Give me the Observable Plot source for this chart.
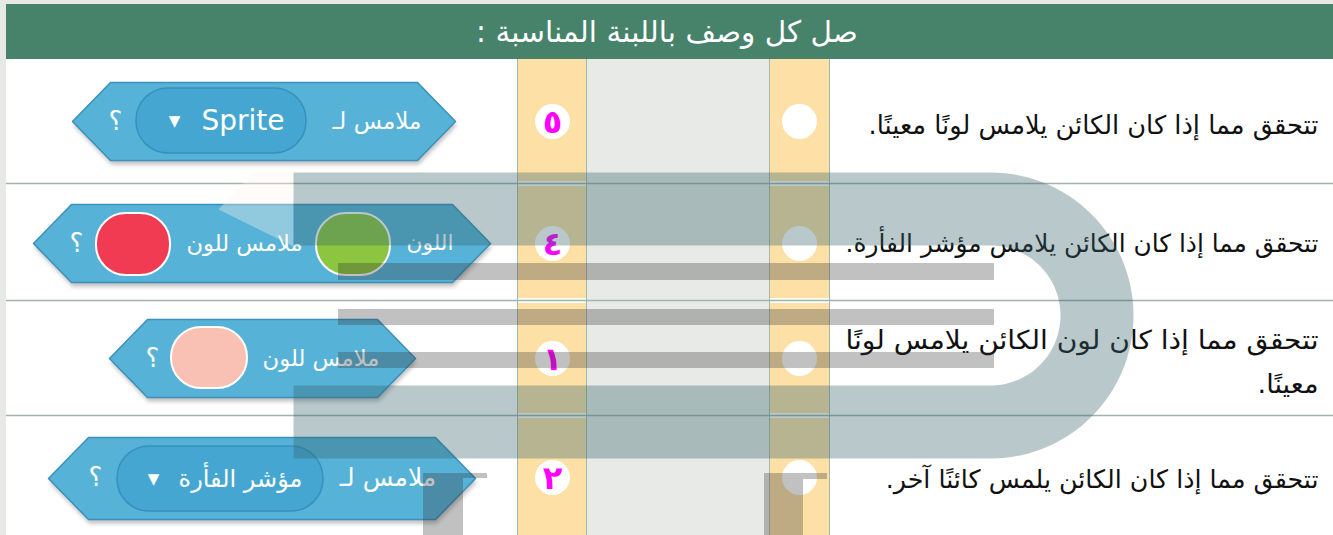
<!DOCTYPE html>
<html><head><meta charset="utf-8">
<script src="https://cdn.jsdelivr.net/npm/d3@7"></script>
<script src="https://cdn.jsdelivr.net/npm/@observablehq/plot@0.6"></script>
<style>html,body{margin:0;padding:0;background:#e6e9e6;overflow:hidden}</style>
</head><body><div id="chart"></div>
<script>
// ---- content ----
const RLM = "\u200F";
const title = "صل كل وصف باللبنة المناسبة :";
const descriptions = [
  ["تتحقق مما إذا كان الكائن يلامس لونًا معينًا."],
  ["تتحقق مما إذا كان الكائن يلامس مؤشر الفأرة."],
  ["تتحقق مما إذا كان لون الكائن يلامس لونًا", "معينًا."],
  ["تتحقق مما إذا كان الكائن يلمس كائنًا آخر."]
];
const answers = ["٥", "٤", "١", "٢"];
const blockLabels = [["ملامس لـ"], ["اللون", "ملامس للون"], ["ملامس للون"], ["ملامس لـ"]];
const dropdownLabels = ["Sprite", "", "", "مؤشر الفأرة"];
const swatchColors = [[], ["#8cc540", "#f03b53"], ["#f8c1b4"], []];
const questionMark = "؟";

// ---- layout ----
const W = 1333, H = 535;
const layout = {
  pageX: 6, headerY: [4, 59], titleY: 32, titleW: 382,
  colYellow: [[517, 586], [769, 829]], colMid: [586, 769],
  circleX: [552, 799], rowY: [121, 243, 358, 477], rowLines: [183, 300, 415],
  descX: 1318,
  descLines: [[[125, 450]], [[244, 473]], [[340, 473], [384, 61]], [[479, 433]]],
  blocks: [
    {x1: 72, x2: 455, y1: 82, y2: 160},
    {x1: 33, x2: 490, y1: 204, y2: 282},
    {x1: 109, x2: 415, y1: 319, y2: 397},
    {x1: 48, x2: 475, y1: 437, y2: 519}
  ],
  labelSpans: [[[332, 421]], [[406, 453], [186, 302]], [[262, 379]], [[339, 436]]],
  dropdowns: [{x1: 136, x2: 306, y1: 88, y2: 153, text: [200, 285], arrow: 174},
              null, null,
              {x1: 117, x2: 323, y1: 446, y2: 511, text: [178, 302], arrow: 153}],
  swatches: [[], [[316, 390, 213, 275], [96, 170, 213, 275]], [[171, 247, 327, 388]], []],
  qmarkX: [115, 76, 152, 95]
};

// ---- build mark tables ----
const rowsIdx = d3.range(4);
const descData = rowsIdx.flatMap(i => descriptions[i].map((t, j) => ({
  text: t + RLM, y: layout.descLines[i][j][0], w: layout.descLines[i][j][1]})));
const answerData = rowsIdx.map(i => ({text: answers[i], y: layout.rowY[i]}));
const circleData = rowsIdx.flatMap(i => layout.circleX.map(x => ({x, y: layout.rowY[i]})));

const hexPts = [];
const shadowPts = [];
layout.blocks.forEach((b, i) => {
  const cy = (b.y1 + b.y2) / 2, ins = (b.y2 - b.y1) / 2 - 1;
  const p = [[b.x1, cy], [b.x1 + ins, b.y1], [b.x2 - ins, b.y1], [b.x2, cy], [b.x2 - ins, b.y2], [b.x1 + ins, b.y2]];
  p.forEach(([x, y]) => { hexPts.push({id: i, x, y}); shadowPts.push({id: i, x: x + 1, y: y + 4}); });
});
const labelData = rowsIdx.flatMap(i => blockLabels[i].map((t, j) => {
  const [a, b] = layout.labelSpans[i][j];
  return {text: t, x: (a + b) / 2, y: layout.rowY[i], w: b - a};
}));
const ddRows = rowsIdx.filter(i => dropdownLabels[i]);
const ddRects = ddRows.map(i => layout.dropdowns[i]);
const ddText = ddRows.map(i => {
  const d = layout.dropdowns[i];
  return {text: dropdownLabels[i], x: (d.text[0] + d.text[1]) / 2, y: (d.y1 + d.y2) / 2, w: d.text[1] - d.text[0]};
});
const ddArrow = ddRows.map(i => {
  const d = layout.dropdowns[i];
  return {x: d.arrow, y: (d.y1 + d.y2) / 2};
});
const swatchData = rowsIdx.flatMap(i => swatchColors[i].map((c, j) => {
  const [x1, x2, y1, y2] = layout.swatches[i][j];
  return {x1, x2, y1, y2, c};
}));
const qData = rowsIdx.map(i => ({text: questionMark, x: layout.qmarkX[i], y: layout.rowY[i]}));

// watermark geometry
const wm = {cx: 990, cy: 315, R: 143, r: 70, xl: 293};
const dShape = [{x: wm.xl, y: wm.cy - wm.R}];
d3.range(0, 61).forEach(k => { const a = -Math.PI / 2 + Math.PI * k / 60; dShape.push({x: wm.cx + wm.R * Math.cos(a), y: wm.cy + wm.R * Math.sin(a)}); });
dShape.push({x: wm.xl, y: wm.cy + wm.R}, {x: wm.xl, y: wm.cy + wm.r});
d3.range(0, 61).forEach(k => { const a = Math.PI / 2 - Math.PI * k / 60; dShape.push({x: wm.cx + wm.r * Math.cos(a), y: wm.cy + wm.r * Math.sin(a)}); });
dShape.push({x: wm.xl, y: wm.cy - wm.r});
const ghost = [{x: 218, y: 209}, {x: 253, y: 172}, {x: 293, y: 172}, {x: 293, y: 246}];
const stripes = [[263, 280], [309, 325], [352, 368]].map(([y1, y2]) => ({x1: 338, x2: 994, y1, y2}));
const bars = [
  {x1: 423, x2: 463, y1: 473, y2: H}, {x1: 463, x2: 487, y1: 473, y2: 478},
  {x1: 764, x2: 803, y1: 473, y2: H}, {x1: 803, x2: 827, y1: 473, y2: 479}
];

const FONT = "DejaVu Sans";
const svg = Plot.plot({
  width: W, height: H, margin: 0,
  x: {domain: [0, W], range: [0, W], axis: null},
  y: {domain: [0, H], range: [0, H], axis: null},
  style: {background: "#e6e9e6", fontFamily: FONT},
  marks: [
    Plot.rect([{x1: layout.pageX, x2: W, y1: layout.headerY[0], y2: layout.headerY[1]}], {x1: "x1", x2: "x2", y1: "y1", y2: "y2", fill: "#47826a"}),
    Plot.rect([{x1: layout.pageX, x2: W, y1: layout.headerY[1], y2: H}], {x1: "x1", x2: "x2", y1: "y1", y2: "y2", fill: "#ffffff"}),
    Plot.text([{text: title + RLM, x: W / 2, y: layout.titleY, w: layout.titleW}], {text: "text", x: "x", y: "y", fill: "#fff", fontSize: 30}),
    Plot.rect(layout.colYellow.map(([a, b]) => ({x1: a, x2: b})), {x1: "x1", x2: "x2", y1: layout.headerY[1], y2: H, fill: "#fde0a6"}),
    Plot.rect([{x1: layout.colMid[0], x2: layout.colMid[1]}], {x1: "x1", x2: "x2", y1: layout.headerY[1], y2: H, fill: "#e8eae7"}),
    Plot.rect(layout.rowLines.flatMap(y => layout.colYellow.map(([a, b]) => ({x1: a, x2: b, y1: y - 2, y2: y + 3}))), {x1: "x1", x2: "x2", y1: "y1", y2: "y2", fill: "#ffffff"}),
    Plot.ruleX([517, 586, 769, 829], {y1: layout.headerY[1], y2: H, stroke: "#a3b8ac", strokeWidth: 1}),
    Plot.ruleY(layout.rowLines, {x1: layout.pageX, x2: W, stroke: "#9fb3a7", strokeWidth: 1.5}),
    Plot.dot(circleData, {x: "x", y: "y", r: 17.5, fill: "#fff", stroke: "none"}),
    Plot.text(answerData, {text: "text", x: layout.circleX[0], y: "y", fill: "#f0f", fontSize: 32, fontWeight: "bold", dy: 1}),
    Plot.text(descData, {text: "text", x: layout.descX, y: "y", textAnchor: "end", fill: "#111", fontSize: 26}),
    Plot.line(shadowPts, {x: "x", y: "y", z: "id", curve: "linear-closed", fill: "#000", fillOpacity: 0.25, stroke: "none"}),
    Plot.line(hexPts, {x: "x", y: "y", z: "id", curve: "linear-closed", fill: "#56b2d7", stroke: "#3d90bc", strokeWidth: 1.5}),
    Plot.rect(ddRects, {x1: "x1", x2: "x2", y1: "y1", y2: "y2", fill: "#45a7d1", stroke: "#3890bd", strokeWidth: 1.5, rx: 32}),
    Plot.rect(swatchData, {x1: "x1", x2: "x2", y1: "y1", y2: "y2", fill: "c", stroke: "#fff", strokeWidth: 2, rx: 30}),
    Plot.text(labelData, {text: "text", x: "x", y: "y", fill: "#fff", fontSize: 25}),
    Plot.text(ddText, {text: "text", x: "x", y: "y", fill: "#fff", fontSize: 28}),
    Plot.text(ddArrow, {text: () => "▼", x: "x", y: "y", fill: "#fff", fontSize: 15}),
    Plot.text(qData, {text: "text", x: "x", y: "y", fill: "#fff", fontSize: 26}),
    Plot.line(ghost, {x: "x", y: "y", curve: "linear-closed", fill: "#fff4ec", fillOpacity: 0.35, stroke: "none"}),
    Plot.line(dShape, {x: "x", y: "y", curve: "linear-closed", fill: "#34626a", fillOpacity: 0.35, stroke: "none"}),
    Plot.rect(stripes, {x1: "x1", x2: "x2", y1: "y1", y2: "y2", fill: "#323232", fillOpacity: 0.3}),
    Plot.rect(bars, {x1: "x1", x2: "x2", y1: "y1", y2: "y2", fill: "#323232", fillOpacity: 0.3})
  ]
});

// soft shadow under blocks (first line group)
const ns = "http://www.w3.org/2000/svg";
const defs = document.createElementNS(ns, "defs");
defs.innerHTML = '<filter id="blockShadow" x="-10%" y="-30%" width="120%" height="160%"><feGaussianBlur stdDeviation="2"/></filter>';
svg.insertBefore(defs, svg.firstChild);
const lineGroups = svg.querySelectorAll('g[aria-label="line"]');
if (lineGroups[0]) lineGroups[0].setAttribute("filter", "url(#blockShadow)");
document.getElementById("chart").appendChild(svg);

// fit texts to the reference widths: shrink the font when too wide, stretch when too narrow
const textGroups = svg.querySelectorAll('g[aria-label="text"]');
const fitTable = [[{w: layout.titleW}], null, descData, labelData, ddText];
fitTable.forEach((data, gi) => {
  if (!data || !textGroups[gi]) return;
  textGroups[gi].querySelectorAll("text").forEach((t, i) => {
    const d = data[i];
    if (!d || !d.w) return;
    const natural = t.getComputedTextLength();
    if (natural > d.w) {
      const fs = parseFloat(getComputedStyle(t).fontSize) * d.w / natural;
      t.setAttribute("font-size", fs.toFixed(2));
      t.style.fontSize = fs.toFixed(2) + "px";
    } else if (natural < d.w - 2) {
      t.setAttribute("textLength", d.w);
      t.setAttribute("lengthAdjust", "spacingAndGlyphs");
    }
  });
});
</script></body></html>
